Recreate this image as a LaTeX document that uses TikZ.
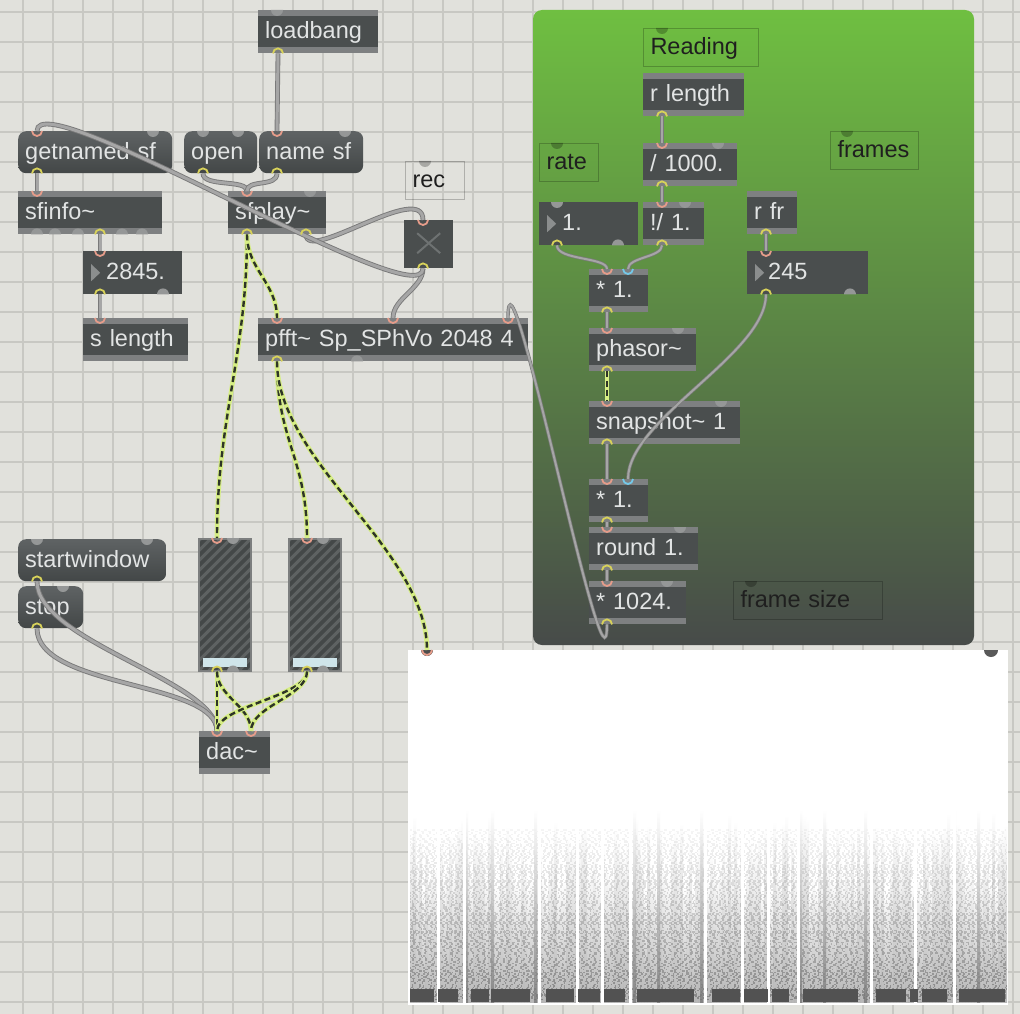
\documentclass[tikz,border=0pt]{standalone}
\usepackage{fontspec}
\setmainfont{Liberation Sans}
\usepackage{tikz}
\definecolor{PatchBg}{HTML}{E1E1DC}
\definecolor{GridLine}{HTML}{C8C8C3}
\definecolor{ObjGray}{HTML}{4A4E4E}
\definecolor{StripGray}{HTML}{7E8081}
\definecolor{ObjText}{HTML}{E2E4E4}
\definecolor{MsgTop}{HTML}{5F6364}
\definecolor{MsgBot}{HTML}{434747}
\definecolor{BumpGray}{HTML}{959797}
\definecolor{NumArrow}{HTML}{8B8E8E}
\definecolor{ToggleX}{HTML}{6E7272}
\definecolor{MeterEdge}{HTML}{7C7E7E}
\definecolor{MeterStripe}{HTML}{5E6262}
\definecolor{MeterBlue}{HTML}{CFE5EA}
\definecolor{CableGray}{HTML}{A6A6A6}
\definecolor{CableEdge}{HTML}{7A7A7A}
\definecolor{SigYellow}{HTML}{D6EE84}
\definecolor{SigDark}{HTML}{2E3527}
\definecolor{InRed}{HTML}{E59C8A}
\definecolor{OutYellow}{HTML}{D8D25A}
\definecolor{InBlue}{HTML}{74C8E8}
\definecolor{PanelTop}{HTML}{6FBF41}
\definecolor{PanelMid}{HTML}{5A8747}
\definecolor{PanelBot}{HTML}{474B49}
\newcommand{\maxtilde}{\textasciitilde}

\tikzset{
  maxobj/.style={anchor=north west, fill=ObjGray, text=ObjText, inner xsep=7pt, inner ysep=0pt,
    align=left, minimum height=43pt, text height=18pt, text depth=4pt,
    path picture={
      \fill[StripGray] (path picture bounding box.north west) rectangle ([yshift=-6pt]path picture bounding box.north east);
      \fill[StripGray] (path picture bounding box.south west) rectangle ([yshift=6pt]path picture bounding box.south east);
    }},
  maxmsg/.style={anchor=north west, rounded corners=8pt, top color=MsgTop, bottom color=MsgBot,
    text=ObjText, inner xsep=7pt, inner ysep=0pt, align=left, minimum height=42pt,
    text height=18pt, text depth=4pt},
  maxnum/.style={anchor=north west, fill=ObjGray, text=ObjText, inner xsep=7pt, inner ysep=0pt,
    align=left, minimum height=43pt, text height=18pt, text depth=4pt,
    path picture={\fill[NumArrow] ([shift={(8pt,-13pt)}]path picture bounding box.north west) -- ++(0,17) -- ++(9,-8.5) -- cycle;}},
  maxcmt/.style={anchor=north west, draw=black, draw opacity=.22, line width=1pt, text=black!88,
    inner xsep=7pt, inner ysep=0pt, align=left, minimum height=38pt, text height=18pt, text depth=4pt},
  maxtoggle/.style={anchor=north west, fill=ObjGray, minimum width=49pt, minimum height=48pt, inner sep=0pt,
    path picture={
      \draw[ToggleX, line width=2pt] ([shift={(13pt,-13pt)}]path picture bounding box.north west) -- ([shift={(-13pt,15pt)}]path picture bounding box.south east);
      \draw[ToggleX, line width=2pt] ([shift={(-13pt,-13pt)}]path picture bounding box.north east) -- ([shift={(13pt,15pt)}]path picture bounding box.south west);
    }},
  meterbox/.style={anchor=north west, draw=MeterEdge, line width=1.5pt, fill=ObjGray!92!black,
    minimum width=52pt, minimum height=132pt, inner sep=0pt,
    path picture={
      \foreach \k in {0,...,20}{
        \draw[MeterStripe, line width=3pt] ([xshift={(-140+10*\k)*1pt}]path picture bounding box.south west) -- ++(150,-150);
      }
      \fill[MeterBlue] ([shift={(4pt,4pt)}]path picture bounding box.south west) rectangle ([shift={(-4pt,13pt)}]path picture bounding box.south east);
    }},
  cable/.style={draw=CableGray, line width=3pt, preaction={draw=CableEdge, line width=4.8pt}},
  thincable/.style={draw=CableGray, line width=2pt, preaction={draw=CableEdge, line width=3.4pt}},
  sigcable/.style={draw=SigDark, line width=2.4pt, dash pattern=on 6pt off 3.5pt,
    preaction={draw=SigYellow, line width=4.6pt, solid}},
  inport/.style={draw=InRed, line width=1.8pt},
  outport/.style={draw=OutYellow, line width=1.8pt},
}

\begin{document}
\begin{tikzpicture}[x=1pt, y=-1pt, font=\fontsize{23.5}{26}\selectfont]

% fondo
\useasboundingbox (0,0) rectangle (1020,1014);
\fill[PatchBg] (0,0) rectangle (1020,1014);
\foreach \gx in {23,53,...,1013}
  \draw[GridLine, line width=1.3pt] (\gx,0) -- (\gx,1014);
\foreach \gy in {12,42,...,1002}
  \draw[GridLine, line width=1.3pt] (0,\gy) -- (1020,\gy);

% panel verde
\shade[rounded corners=9pt, top color=PanelTop, middle color=PanelMid, bottom color=PanelBot]
  (533,10) rectangle (974,645);

% objetos
\node[maxobj, text width=106pt] (loadbang) at (258,10) {loadbang};
\node[maxmsg, text width=140pt] (getnamed) at (18,131) {getnamed sf};
\node[maxmsg, text width=59pt] (openmsg) at (184,131) {open};
\node[maxmsg, text width=90pt] (namesf) at (259,131) {name sf};
\node[maxcmt, text width=45pt] (reccmt) at (405,161) {rec};
\node[maxobj, text width=130pt] (sfinfo) at (18,191) {sfinfo\maxtilde};
\node[maxobj, text width=84pt] (sfplay) at (228,191) {sfplay\maxtilde};
\node[maxtoggle] (toggle) at (404,220) {};
\node[maxnum, text width=85pt] (num2845) at (83,251) {\hspace*{16pt}2845.};
\node[maxobj, text width=91pt] (slength) at (83,318) {s length};
\node[maxobj, text width=256pt] (pfft) at (258,318) {pfft\maxtilde{} Sp\_SPhVo 2048 4};
\node[maxmsg, text width=134pt] (startwin) at (18,539) {startwindow};
\node[maxmsg, text width=51pt] (stopmsg) at (18,586) {stop};
\node[meterbox] (meterL) at (198,538) {};
\node[meterbox] (meterR) at (288,538) {};
\node[maxobj, text width=57pt] (dac) at (199,731) {dac\maxtilde};
\node[anchor=north west, fill=white, minimum width=600pt, minimum height=355pt, inner sep=0pt] (spectro) at (408,650) {};

% dentro del panel
\node[maxcmt, text width=101pt] (readcmt) at (643,28) {Reading};
\node[maxobj, text width=87pt] (rlength) at (643,73) {r length};
\node[maxcmt, text width=45pt] (ratecmt) at (539,143) {rate};
\node[maxobj, text width=80pt] (div) at (643,143) {/ 1000.};
\node[maxcmt, text width=74pt] (framescmt) at (830,131) {frames};
\node[maxnum, text width=85pt] (numone) at (539,202) {\hspace*{16pt}1.};
\node[maxobj, text width=47pt] (rdiv) at (643,202) {!/ 1.};
\node[maxobj, text width=36pt] (rfr) at (747,191) {r fr};
\node[maxnum, text width=107pt] (numfr) at (747,251) {\hspace*{14pt}245};
\node[maxobj, text width=45pt] (mulA) at (589,269) {* 1.};
\node[maxobj, text width=93pt] (phasor) at (589,328) {phasor\maxtilde};
\node[maxobj, text width=137pt] (snapshot) at (589,401) {snapshot\maxtilde{} 1};
\node[maxobj, text width=45pt] (mulB) at (589,479) {* 1.};
\node[maxobj, text width=95pt] (roundobj) at (589,527) {round 1.};
\node[maxobj, text width=83pt] (mulK) at (589,581) {* 1024.};
\node[maxcmt, text width=135pt] (framesizecmt) at (733,581) {frame size};

% espectrograma
\begin{scope}
  \clip ([shift={(1pt,-1pt)}]spectro.north west) rectangle ([shift={(-1pt,1pt)}]spectro.south east);
  \pgfmathsetseed{11}
  \foreach \sx in {410,413,...,1004}{
    \pgfmathsetmacro\sh{110+80*rnd}
    \shade[top color=white, bottom color=black!40, opacity=.7] (\sx,{1002-\sh}) rectangle (\sx+3,1002);
  }
  \foreach \ry in {830,833,...,998}{
    \pgfmathsetmacro\ro{0.04+0.22*(\ry-830)/170}
    \pgfmathsetmacro\da{1+3*rnd}
    \pgfmathsetmacro\db{1+5*rnd}
    \pgfmathsetmacro\dc{1+2*rnd}
    \pgfmathsetmacro\dd{2+6*rnd}
    \pgfmathsetmacro\dp{20*rnd}
    \draw[black, opacity=\ro, line width=2.2pt, dash pattern=on \da pt off \db pt on \dc pt off \dd pt, dash phase=\dp pt] (410,\ry) -- (1006,\ry);
    \draw[black, opacity=\ro, line width=1.6pt, dash pattern=on \dc pt off \dd pt on \da pt off \db pt, dash phase=\dd pt] (410,\ry+1.5) -- (1006,\ry+1.5);
  }
  \foreach \sx in {465,491,534,633,657,700,799,823,864,953,977}
    \shade[top color=white, bottom color=black!55, opacity=.75] (\sx,810) rectangle (\sx+3,1002);
  \foreach \sx in {437,463,538,576,601,629,704,741,767,797,870,914,953}
    \fill[white] (\sx,700) rectangle (\sx+3,1005);
  \foreach \a/\b in {410/434,438/458,471/489,491/530,546/574,578/600,604/625,637/694,712/740,744/768,772/789,803/858,876/906,910/918,922/947,959/1005}
    \fill[black!68] (\a,989) rectangle (\b,1002);
\end{scope}

% puertos
\foreach \c/\n/\a/\dx in {
  lb-o/loadbang/south west/20, gn-i/getnamed/north west/19, gn-o/getnamed/south west/19,
  op-o/openmsg/south west/19, ns-i/namesf/north west/18, ns-o/namesf/south west/18,
  si-i/sfinfo/north west/19, si-o/sfinfo/south west/82, sp-i/sfplay/north west/19,
  sp-o/sfplay/south west/19, sp-o2/sfplay/south west/78, tg-i/toggle/north west/19,
  tg-o/toggle/south west/19, na-i/num2845/north west/17, na-o/num2845/south west/17,
  sl-i/slength/north west/17, pf-i/pfft/north west/19, pf-i2/pfft/north west/135,
  pf-i3/pfft/north west/250, pf-o/pfft/south west/19, sw-o/startwin/south west/19,
  st-o/stopmsg/south west/19, ml-i/meterL/north west/19, ml-o/meterL/south west/19,
  mr-i/meterR/north west/19, mr-o/meterR/south west/19, dc-i/dac/north west/18,
  dc-i2/dac/north west/52, sg-i/spectro/north west/19,
  rl-o/rlength/south west/19, dv-i/div/north west/19, dv-o/div/south west/19,
  n1-o/numone/south west/18, rd-i/rdiv/north west/19, rd-o/rdiv/south west/19,
  rf-o/rfr/south west/19, nb-i/numfr/north west/19, nb-o/numfr/south west/19,
  m1-i/mulA/north west/18, m1-i2/mulA/north west/39, m1-o/mulA/south west/18,
  ph-i/phasor/north west/18, ph-o/phasor/south west/18, sn-i/snapshot/north west/18,
  sn-o/snapshot/south west/18, m2-i/mulB/north west/18, m2-i2/mulB/north west/39,
  m2-o/mulB/south west/18, ro-i/roundobj/north west/18, ro-o/roundobj/south west/18,
  mk-i/mulK/north west/18, mk-o/mulK/south west/18}
  \coordinate (\c) at ([xshift=\dx pt]\n.\a);

% entradas y salidas libres
\foreach \n/\dx in {loadbang/19, getnamed/135, openmsg/19, openmsg/54, namesf/86, sfplay/82,
    startwin/19, startwin/129, stopmsg/45, numone/18, div/75, rdiv/42, phasor/89,
    snapshot/132, roundobj/91, mulK/78, meterL/35, meterR/35}
  \fill[BumpGray] ([xshift={(\dx-6)*1pt}]\n.north west) arc[start angle=180, end angle=0, radius=6] -- cycle;
\foreach \n/\dx in {sfinfo/19, sfinfo/37, sfinfo/60, sfinfo/104, sfinfo/124, num2845/80,
    numone/79, numfr/103, pfft/99, meterL/35, meterR/35}
  \fill[BumpGray] ([xshift={(\dx-6)*1pt}]\n.south west) arc[start angle=180, end angle=360, radius=6] -- cycle;
\foreach \n/\dx in {reccmt/20, readcmt/19, ratecmt/18, framescmt/17, framesizecmt/18}
  \fill[black, opacity=.25] ([xshift={(\dx-6)*1pt}]\n.north west) arc[start angle=180, end angle=0, radius=6] -- cycle;
\fill[black!70] ([xshift=-6pt]sg-i) arc[start angle=180, end angle=0, radius=6] -- cycle;
\fill[black!65] ([xshift=576pt]spectro.north west) arc[start angle=180, end angle=0, radius=7] -- cycle;

% cables de control
\draw[cable] (lb-o) -- (ns-i);
\draw[cable] (gn-o) -- (si-i);
\draw[cable] (si-o) -- (na-i);
\draw[cable] (na-o) -- (sl-i);
\draw[cable] (op-o) .. controls +(0,14) and +(0,-12) .. (sp-i);
\draw[cable] (ns-o) .. controls +(0,14) and +(0,-12) .. (sp-i);
\draw[cable] (sp-o2) .. controls +(0,30) and +(0,-40) .. (tg-i);
\draw[cable] (tg-o) .. controls +(0,20) and +(0,-20) .. (pf-i2);
\draw[cable] (tg-o) .. controls +(0,50) and +(0,-50) .. (gn-i);
\draw[cable] (sw-o) .. controls +(0,60) and +(0,-50) .. (dc-i);
\draw[cable] (st-o) .. controls +(0,60) and +(0,-50) .. (dc-i);
\draw[thincable] (mk-o) .. controls +(0,100) and +(0,-100) .. (pf-i3);

% cables del panel
\draw[thincable] (rl-o) -- (dv-i);
\draw[thincable] (dv-o) -- (rd-i);
\draw[thincable] (n1-o) .. controls +(0,15) and +(0,-12) .. (m1-i);
\draw[thincable] (rd-o) .. controls +(0,12) and +(0,-12) .. (m1-i2);
\draw[thincable] (m1-o) -- (ph-i);
\draw[thincable] (sn-o) -- (m2-i);
\draw[thincable] (rf-o) -- (nb-i);
\draw[thincable] (nb-o) .. controls +(0,60) and +(0,-60) .. (m2-i2);
\draw[thincable] (m2-o) -- (ro-i);
\draw[thincable] (ro-o) -- (mk-i);

% cables de audio
\draw[sigcable] (sp-o) .. controls +(0,120) and +(0,-120) .. (ml-i);
\draw[sigcable] (sp-o) .. controls +(0,35) and +(0,-35) .. (pf-i);
\draw[sigcable] (pf-o) .. controls +(0,80) and +(0,-80) .. (mr-i);
\draw[sigcable] (pf-o) .. controls +(0,100) and +(0,-100) .. (sg-i);
\draw[sigcable] (ml-o) .. controls +(0,25) and +(0,-25) .. (dc-i);
\draw[sigcable] (ml-o) .. controls +(0,25) and +(0,-25) .. (dc-i2);
\draw[sigcable] (mr-o) .. controls +(0,25) and +(0,-25) .. (dc-i);
\draw[sigcable] (mr-o) .. controls +(0,25) and +(0,-25) .. (dc-i2);
\draw[sigcable] (ph-o) -- (sn-i);

% aros de los puertos
\foreach \p in {gn-i, ns-i, si-i, sp-i, tg-i, na-i, sl-i, pf-i, pf-i2, pf-i3, ml-i, mr-i,
    dc-i, dc-i2, sg-i, dv-i, rd-i, nb-i, m1-i, ph-i, sn-i, m2-i, ro-i, mk-i}
  \draw[inport] ([xshift=-5pt]\p) arc[start angle=180, end angle=0, radius=5];
\foreach \p in {m1-i2, m2-i2}
  \draw[inport, draw=InBlue] ([xshift=-5pt]\p) arc[start angle=180, end angle=0, radius=5];
\foreach \p in {lb-o, gn-o, op-o, ns-o, si-o, sp-o, sp-o2, tg-o, na-o, pf-o, sw-o, st-o,
    ml-o, mr-o, rl-o, dv-o, n1-o, rd-o, rf-o, nb-o, m1-o, ph-o, sn-o, m2-o, ro-o, mk-o}
  \draw[outport] ([xshift=-5pt]\p) arc[start angle=180, end angle=360, radius=5];

\end{tikzpicture}
\end{document}
